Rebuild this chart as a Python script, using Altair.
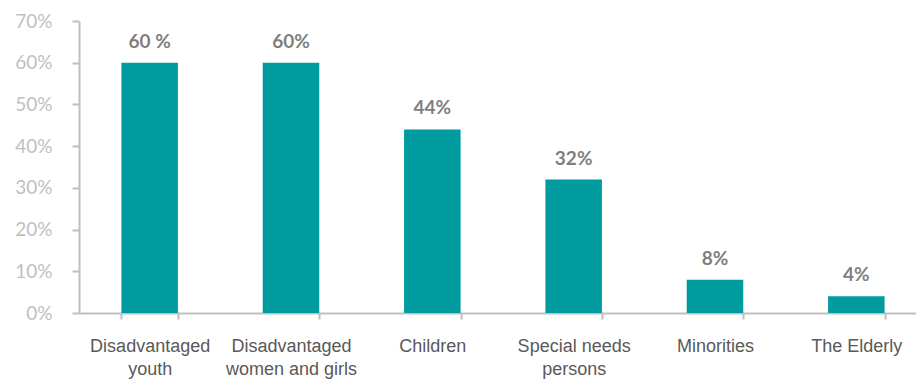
import altair as alt
import pandas as pd

categories = [
    "Disadvantaged\nyouth",
    "Disadvantaged\nwomen and girls",
    "Children",
    "Special needs\npersons",
    "Minorities",
    "The Elderly",
]
values = [0.60, 0.60, 0.44, 0.32, 0.08, 0.04]
value_labels = ["60 %", "60%", "44%", "32%", "8%", "4%"]

df = pd.DataFrame({"category": categories, "value": values, "label": value_labels})

x = alt.X(
    "category:N",
    sort=categories,
    title=None,
    scale=alt.Scale(paddingInner=0.6, paddingOuter=0.3, range=[0, 848]),
    axis=alt.Axis(
        labelAngle=0,
        labelExpr="split(datum.label, '\\n')",
        labelFont="Liberation Sans",
        labelFontSize=18,
        labelColor="#595959",
        labelPadding=18,
        labelLineHeight=23,
        labelBaseline="top",
        domainColor="#bfbfbf",
        domainWidth=2,
        tickColor="#bfbfbf",
        tickWidth=2,
        tickSize=6,
        tickBand="extent",
        labelLimit=300,
    ),
)

y = alt.Y(
    "value:Q",
    title=None,
    scale=alt.Scale(domain=[0, 0.7]),
    axis=alt.Axis(
        format=".0%",
        values=[0, 0.1, 0.2, 0.3, 0.4, 0.5, 0.6, 0.7],
        grid=False,
        labelFont="Lato",
        labelFontSize=19,
        labelColor="#bfbfbf",
        labelPadding=20,
        domainColor="#bfbfbf",
        domainWidth=2,
        tickColor="#bfbfbf",
        tickWidth=2,
        tickSize=7,
    ),
)

bars = alt.Chart(df).mark_bar(color="#009b9e").encode(x=x, y=y)

text = alt.Chart(df).mark_text(
    font="Lato", fontSize=19, fontWeight="bold", color="#7f7f7f",
    baseline="alphabetic", dy=-15
).encode(x=alt.X("category:N", sort=categories), y="value:Q", text="label:N")

chart = (
    alt.layer(bars, text)
    .properties(
        width=837,
        height=292,
        autosize=alt.AutoSizeParams(type="none"),
        padding={"left": 79, "top": 21, "right": 0, "bottom": 66},
    )
    .configure_view(stroke=None)
)

chart.save("out.html", embed_options={"renderer": "svg", "actions": False})
